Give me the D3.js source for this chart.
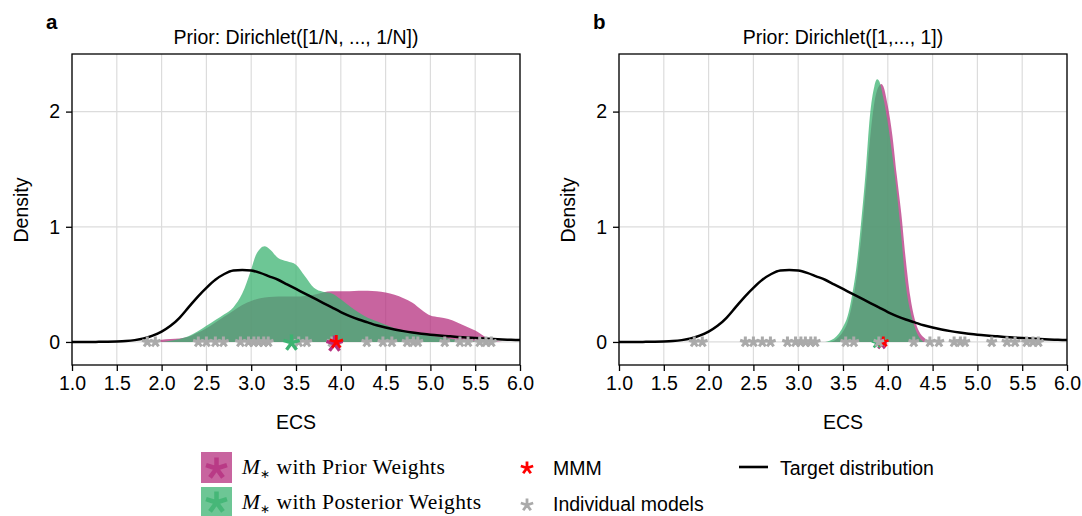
<!DOCTYPE html>
<html>
<head>
<meta charset="utf-8">
<script src="https://cdn.jsdelivr.net/npm/d3@7"></script>
<style>
  body { margin: 0; background: #fff; }
  text { font-family: "Liberation Sans", Arial, Helvetica, sans-serif; }
</style>
</head>
<body>
<svg id="viz" width="1082" height="516"></svg>
<script>
// target distribution (same in both panels)
const target = [
  [1.0,0],[1.1,0],[1.2,0],[1.3,0.001],[1.4,0.002],[1.5,0.004],[1.6,0.008],[1.7,0.016],[1.8,0.03],[1.9,0.055],
  [2.0,0.09],[2.1,0.14],[2.2,0.21],[2.3,0.30],[2.4,0.39],[2.5,0.47],[2.6,0.54],[2.7,0.59],[2.8,0.62],[2.9,0.625],
  [3.0,0.62],[3.1,0.60],[3.2,0.57],[3.3,0.54],[3.4,0.50],[3.5,0.46],[3.6,0.42],[3.7,0.38],[3.8,0.34],[3.9,0.30],
  [4.0,0.26],[4.1,0.225],[4.2,0.195],[4.3,0.17],[4.4,0.145],[4.5,0.125],[4.6,0.108],[4.7,0.094],[4.8,0.082],[4.9,0.072],
  [5.0,0.063],[5.1,0.056],[5.2,0.050],[5.3,0.044],[5.4,0.039],[5.5,0.034],[5.6,0.030],[5.7,0.026],[5.8,0.022],[5.9,0.019],[6.0,0.016]
]

// panel a: M* densities
const priorA = [
  [1.8,0],[1.9,0.01],[2.0,0.02],[2.1,0.025],[2.2,0.03],[2.3,0.045],[2.4,0.08],[2.5,0.12],[2.6,0.17],[2.7,0.22],
  [2.8,0.27],[2.9,0.32],[3.0,0.355],[3.1,0.38],[3.2,0.39],[3.3,0.395],[3.4,0.395],[3.5,0.395],[3.6,0.40],[3.7,0.41],
  [3.8,0.43],[3.9,0.44],[4.0,0.44],[4.1,0.44],[4.2,0.445],[4.3,0.445],[4.4,0.44],[4.5,0.43],[4.6,0.41],[4.7,0.38],
  [4.8,0.34],[4.9,0.28],[5.0,0.23],[5.1,0.215],[5.2,0.20],[5.3,0.17],[5.4,0.135],[5.5,0.10],[5.6,0.05],[5.7,0.01],[5.8,0]
]
const postA = [
  [2.0,0],[2.1,0.01],[2.2,0.025],[2.3,0.05],[2.4,0.09],[2.5,0.14],[2.6,0.19],[2.7,0.24],[2.8,0.30],[2.9,0.42],
  [3.0,0.63],[3.05,0.75],[3.1,0.81],[3.15,0.83],[3.2,0.81],[3.3,0.73],[3.4,0.70],[3.5,0.67],[3.6,0.57],[3.7,0.47],
  [3.8,0.435],[3.9,0.42],[4.0,0.37],[4.1,0.31],[4.2,0.255],[4.3,0.21],[4.4,0.18],[4.5,0.15],[4.6,0.12],[4.7,0.10],
  [4.8,0.08],[4.9,0.065],[5.0,0.055],[5.1,0.045],[5.2,0.03],[5.3,0.02],[5.4,0.012],[5.5,0.006],[5.6,0]
]

// panel b: M* densities
const priorB = [
  [3.35,0],[3.40,0.01],[3.45,0.04],[3.50,0.09],[3.55,0.17],[3.60,0.32],[3.65,0.55],[3.70,0.88],[3.75,1.30],[3.80,1.75],
  [3.85,2.08],[3.90,2.22],[3.93,2.24],[3.95,2.22],[4.00,2.05],[4.05,1.80],[4.10,1.45],[4.15,1.12],[4.20,0.72],[4.25,0.40],
  [4.30,0.20],[4.35,0.09],[4.40,0.04],[4.45,0.01],[4.50,0]
]
const postB = [
  [3.30,0],[3.35,0.01],[3.40,0.03],[3.45,0.07],[3.50,0.13],[3.55,0.22],[3.60,0.40],[3.65,0.65],[3.70,1.02],[3.75,1.45],
  [3.80,1.96],[3.85,2.22],[3.88,2.28],[3.90,2.27],[3.95,2.12],[4.00,1.90],[4.05,1.62],[4.10,1.30],[4.15,0.92],[4.20,0.50],
  [4.25,0.27],[4.30,0.13],[4.35,0.04],[4.40,0]
]

// ECS of the individual models
const models = [1.84,1.93,2.41,2.50,2.60,2.69,2.88,2.97,3.03,3.08,3.14,3.19,3.53,3.62,3.90,
                4.29,4.47,4.57,4.74,4.81,4.86,5.16,5.33,5.42,5.55,5.62,5.68]
const mmm = 3.95
const mStarA = [3.93, 3.45]   // prior weights, posterior weights
const mStarB = [3.93, 3.88]

const xTicks = [1.0,1.5,2.0,2.5,3.0,3.5,4.0,4.5,5.0,5.5,6.0]
const yTicks = [0,1,2]

const colPrior = '#b5307f'
const colPost = '#3cb371'
const fs = 19.5

const svg = d3.select('#viz')

// 5 armed asterisk
const star = (r) => {
  let p = ''
  for (let k = 0; k < 5; k++) {
    let a = (-90 + k*72) * Math.PI/180
    p += 'M0,0L' + (r*Math.cos(a)).toFixed(2) + ',' + (r*Math.sin(a)).toFixed(2)
  }
  return p
}

const y = d3.scaleLinear().domain([-0.2, 2.5]).range([365, 54])

const panels = [
  {label:'a', title:'Prior: Dirichlet([1/N, ..., 1/N])', left:72, prior:priorA, post:postA, mstar:mStarA, big:true},
  {label:'b', title:'Prior: Dirichlet([1,..., 1])', left:619, prior:priorB, post:postB, mstar:mStarB, big:false}
]

panels.forEach(p => {
  let x = d3.scaleLinear().domain([1, 6]).range([p.left, p.left + 448])
  let g = svg.append('g')

  // grid
  g.selectAll('.vg').data(xTicks).enter().append('line')
    .attr('x1', d => x(d)).attr('x2', d => x(d))
    .attr('y1', 54).attr('y2', 365)
    .attr('stroke', '#dcdcdc').attr('stroke-width', 1.2)
  g.selectAll('.hg').data(yTicks).enter().append('line')
    .attr('x1', x(1)).attr('x2', x(6))
    .attr('y1', d => y(d)).attr('y2', d => y(d))
    .attr('stroke', '#dcdcdc').attr('stroke-width', 1.2)

  let area = d3.area().x(d => x(d[0])).y0(y(0)).y1(d => y(d[1])).curve(d3.curveMonotoneX)
  g.append('path').datum(p.prior).attr('d', area)
    .attr('fill', colPrior).attr('fill-opacity', 0.75)
  g.append('path').datum(p.post).attr('d', area)
    .attr('fill', colPost).attr('fill-opacity', 0.75)

  let line = d3.line().x(d => x(d[0])).y(d => y(d[1])).curve(d3.curveMonotoneX)
  g.append('path').datum(target).attr('d', line)
    .attr('fill', 'none').attr('stroke', '#000').attr('stroke-width', 2.5)

  // M* markers and MMM (panel b: they sit below the model markers)
  let rs = p.big ? 8.5 : 5.5
  let mg = g.append('g')
  mg.append('path').attr('d', star(rs))
    .attr('transform', `translate(${x(p.mstar[0])},${y(0) + 2})`)
    .attr('stroke', colPrior).attr('stroke-width', p.big ? 3.4 : 2.6).attr('fill', 'none')
  mg.append('path').attr('d', star(rs))
    .attr('transform', `translate(${x(p.mstar[1])},${y(0) + 1})`)
    .attr('stroke', colPost).attr('stroke-width', p.big ? 3.4 : 2.6).attr('fill', 'none')
  mg.append('path').attr('d', star(p.big ? 7 : 5.5))
    .attr('transform', `translate(${x(mmm)},${y(0)})`)
    .attr('stroke', '#ff0000').attr('stroke-width', 2.8).attr('fill', 'none')

  // individual models
  let models_g = g.append('g')
  models_g.selectAll('.mod').data(models).enter().append('path')
    .attr('d', star(5.5))
    .attr('transform', d => `translate(${x(d)},${y(0)})`)
    .attr('stroke', '#aaaaaa').attr('stroke-width', 3).attr('fill', 'none')
  if (p.big) mg.raise()

  // frame
  g.append('rect').attr('x', x(1)).attr('y', 54).attr('width', 448).attr('height', 311)
    .attr('fill', 'none').attr('stroke', '#000').attr('stroke-width', 1.3)

  let xAxis = d3.axisBottom(x).tickValues(xTicks).tickFormat(d3.format('.1f')).tickSize(6).tickPadding(5)
  g.append('g').attr('transform', 'translate(0,365)').call(xAxis)
    .call(a => a.select('.domain').remove())
    .call(a => a.selectAll('text').attr('font-size', fs).attr('fill', '#000').style('font-family', '"Liberation Sans", Arial, sans-serif'))
    .call(a => a.selectAll('line').attr('stroke', '#000').attr('stroke-width', 1.3))
  let yAxis = d3.axisLeft(y).tickValues(yTicks).tickFormat(d3.format('d')).tickSize(6).tickPadding(6)
  g.append('g').attr('transform', `translate(${x(1)},0)`).call(yAxis)
    .call(a => a.select('.domain').remove())
    .call(a => a.selectAll('text').attr('font-size', fs).attr('fill', '#000').style('font-family', '"Liberation Sans", Arial, sans-serif'))
    .call(a => a.selectAll('line').attr('stroke', '#000').attr('stroke-width', 1.3))

  g.append('text').attr('x', x(3.5)).attr('y', 44).attr('text-anchor', 'middle')
    .attr('font-size', fs).text(p.title)
  g.append('text').attr('x', x(3.5)).attr('y', 429).attr('text-anchor', 'middle')
    .attr('font-size', fs).text('ECS')
  g.append('text').attr('transform', `translate(${p.left - 44},210) rotate(-90)`)
    .attr('text-anchor', 'middle').attr('font-size', fs).text('Density')
  g.append('text').attr('x', p.left - 26).attr('y', 29)
    .attr('font-size', 20.5).attr('font-weight', 'bold').text(p.label)
})

// legend
let leg = svg.append('g')
const legPatches = [
  {y:452, h:31, fill:colPrior, text:' with Prior Weights', ty:474},
  {y:487, h:29, fill:colPost, text:' with Posterior Weights', ty:509}
]
legPatches.forEach(d => {
  leg.append('rect').attr('x', 201).attr('y', d.y).attr('width', 31).attr('height', d.h)
    .attr('fill', d.fill).attr('fill-opacity', 0.75)
  leg.append('path').attr('d', star(11)).attr('transform', `translate(216.5,${d.y + d.h/2 + 1})`)
    .attr('stroke', d.fill).attr('stroke-width', 4.5).attr('fill', 'none').attr('stroke-opacity', 0.8)
  let t = leg.append('text').attr('x', 242).attr('y', d.ty)
    .style('font-family', '"Liberation Serif", "Times New Roman", serif').attr('font-size', 21.5)
    .attr('letter-spacing', 0.4)
  t.append('tspan').attr('font-style', 'italic').text('M')
  t.append('tspan').attr('font-size', 12).attr('dy', 4).text('∗')
  t.append('tspan').attr('dy', -4).text(d.text)
})

leg.append('path').attr('d', star(6.5)).attr('transform', 'translate(527,468)')
  .attr('stroke', '#ff0000').attr('stroke-width', 2.8).attr('fill', 'none')
leg.append('text').attr('x', 553).attr('y', 475).attr('font-size', fs).text('MMM')
leg.append('path').attr('d', star(6.5)).attr('transform', 'translate(527,505)')
  .attr('stroke', '#aaaaaa').attr('stroke-width', 2.8).attr('fill', 'none')
leg.append('text').attr('x', 553).attr('y', 511).attr('font-size', fs).text('Individual models')

leg.append('line').attr('x1', 739).attr('x2', 768).attr('y1', 467).attr('y2', 467)
  .attr('stroke', '#000').attr('stroke-width', 2.6)
leg.append('text').attr('x', 780).attr('y', 475).attr('font-size', fs).text('Target distribution')
</script>
</body>
</html>
